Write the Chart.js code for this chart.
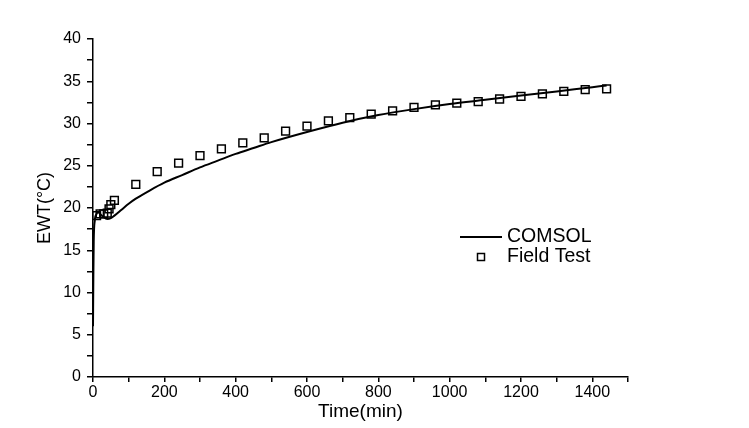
<!DOCTYPE html>
<html>
<head>
<meta charset="utf-8">
<script src="https://cdn.jsdelivr.net/npm/chart.js@4.4.0/dist/chart.umd.min.js"></script>
<style>
  html, body { margin: 0; padding: 0; background: #fff; }
  #wrap { width: 749px; height: 428px; }
</style>
</head>
<body>
<div id="wrap"><canvas id="chart"></canvas></div>
<script>
// COMSOL simulation curve (time in min, EWT in degC)
const comsolTime = [0, 1, 2, 5, 10, 15, 20, 30, 40, 50, 60, 80, 100, 120, 160, 200, 250, 300, 350, 400, 450, 500, 600, 700, 800, 900, 1000, 1100, 1200, 1300, 1400, 1440];
const comsolEwt = [6.0, 12.0, 16.0, 18.5, 19.3, 19.5, 19.3, 18.9, 18.7, 18.8, 19.1, 19.8, 20.5, 21.1, 22.1, 23.0, 23.9, 24.8, 25.6, 26.4, 27.1, 27.8, 29.0, 30.1, 31.0, 31.7, 32.3, 32.8, 33.3, 33.8, 34.3, 34.5];

// field test measurements
const fieldTime = [10, 20, 30, 40, 45, 50, 60, 120, 180, 240, 300, 360, 420, 480, 540, 600, 660, 720, 780, 840, 900, 960, 1020, 1080, 1140, 1200, 1260, 1320, 1380, 1440];
const fieldEwt = [19.1, 19.3, 19.3, 19.4, 19.9, 20.4, 20.9, 22.8, 24.3, 25.3, 26.2, 27.0, 27.7, 28.3, 29.1, 29.7, 30.3, 30.7, 31.1, 31.5, 31.9, 32.2, 32.4, 32.6, 32.9, 33.2, 33.5, 33.8, 34.0, 34.1];

const seriesNames = ['COMSOL', 'Field Test'];

const toPoints = (xs, ys) => xs.map((x, i) => ({ x: x, y: ys[i] }));

const fontFamily = '"Liberation Sans", Arial, sans-serif';

// legend drawn inside the plot area, like the original figure
const insideLegend = {
    id: 'insideLegend',
    afterDraw(chart) {
        const ctx = chart.ctx;
        const area = chart.chartArea;
        const x0 = area.left + 367;
        const y0 = area.top + 198;
        ctx.save();
        ctx.font = '19.5px ' + fontFamily;
        ctx.fillStyle = '#000';
        ctx.textBaseline = 'middle';
        // line sample
        ctx.strokeStyle = '#000';
        ctx.lineWidth = 2;
        ctx.beginPath();
        ctx.moveTo(x0, y0);
        ctx.lineTo(x0 + 42, y0);
        ctx.stroke();
        ctx.fillText(seriesNames[0], x0 + 47, y0);
        // square sample
        ctx.lineWidth = 1.5;
        ctx.strokeRect(x0 + 17.5, y0 + 16.5, 7, 7);
        ctx.fillText(seriesNames[1], x0 + 47, y0 + 20);
        ctx.restore();
    }
};

const ctx = document.getElementById('chart').getContext('2d');
new Chart(ctx, {
    type: 'scatter',
    data: {
        datasets: [
            {
                label: seriesNames[1],
                data: toPoints(fieldTime, fieldEwt),
                pointStyle: 'rect',
                pointRadius: 5.5,
                pointBorderWidth: 1.5,
                borderColor: '#000',
                backgroundColor: 'rgba(255,255,255,0)',
                showLine: false,
                order: 0
            },
            {
                label: seriesNames[0],
                data: toPoints(comsolTime, comsolEwt),
                showLine: true,
                borderColor: '#000',
                borderWidth: 2,
                pointRadius: 0,
                cubicInterpolationMode: 'monotone',
                order: 1
            }
        ]
    },
    options: {
        responsive: true,
        maintainAspectRatio: false,
        animation: false,
        layout: { padding: { left: 34, right: 121, top: 39, bottom: 5 } },
        plugins: {
            legend: { display: false },
            tooltip: { enabled: false }
        },
        scales: {
            x: {
                type: 'linear',
                min: 0,
                max: 1500,
                border: { color: '#000', width: 1.5 },
                grid: { drawOnChartArea: false, color: '#000', tickLength: 5, lineWidth: 1.5 },
                ticks: {
                    stepSize: 100,
                    color: '#000',
                    font: { family: fontFamily, size: 16 },
                    padding: 1,
                    maxRotation: 0,
                    autoSkip: false,
                    callback: v => (v % 200 === 0 && v <= 1400) ? v : ''
                },
                title: {
                    display: true,
                    text: 'Time(min)',
                    color: '#000',
                    font: { family: fontFamily, size: 19 },
                    padding: { top: 0, bottom: 0 }
                },
                afterFit: s => { s.height = 46; }
            },
            y: {
                min: 0,
                max: 40,
                border: { color: '#000', width: 1.5 },
                grid: { drawOnChartArea: false, color: '#000', tickLength: 6, lineWidth: 1.5 },
                ticks: {
                    stepSize: 2.5,
                    color: '#000',
                    font: { family: fontFamily, size: 16 },
                    padding: 6,
                    autoSkip: false,
                    callback: v => v % 5 === 0 ? v : ''
                },
                title: {
                    display: true,
                    text: 'EWT(°C)',
                    color: '#000',
                    font: { family: fontFamily, size: 18 },
                    padding: { top: 0, bottom: 4 }
                },
                afterFit: s => { s.width = 59; }
            }
        }
    },
    plugins: [insideLegend]
});
</script>
</body>
</html>
